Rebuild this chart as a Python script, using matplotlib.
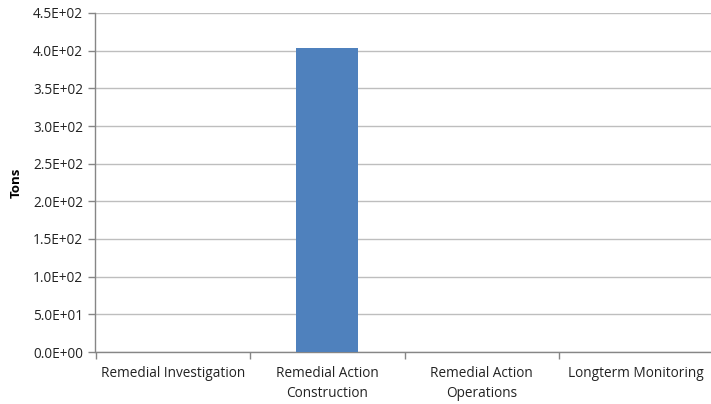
import matplotlib
matplotlib.use("Agg")
import matplotlib.pyplot as plt
from matplotlib.ticker import FuncFormatter

categories = ["Remedial Investigation", "Remedial Action\nConstruction",
              "Remedial Action\nOperations", "Longterm Monitoring"]
values = [0, 403.5, 0, 0]
yticks = [0, 50, 100, 150, 200, 250, 300, 350, 400, 450]

plt.rcParams['font.family'] = ['Open Sans', 'DejaVu Sans']

fig = plt.figure(figsize=(7.11, 4.04), dpi=100)
ax = fig.add_axes([95.5/711, 52/404, (713.5-95.5)/711, (352-13)/404])

x = list(range(len(categories)))
ax.bar(x, values, width=0.4, color="#4F81BD", zorder=3)

ax.set_xlim(-0.5, len(categories) - 0.5)
ax.set_ylim(0, 450)
ax.set_yticks(yticks)
ax.yaxis.set_major_formatter(FuncFormatter(lambda v, p: f"{v:.1E}"))
ax.grid(axis="y", color="#BEBEBE", linewidth=1, zorder=0)

ax.set_xticks(x)
ax.set_xticklabels(categories, fontsize=9.8, color="#222222", linespacing=1.45)
ax.set_xticks([i - 0.5 for i in range(len(categories) + 1)], minor=True)
ax.tick_params(axis="x", which="major", length=0, pad=10)
ax.tick_params(axis="x", which="minor", length=5, color="#868686", width=1)
ax.tick_params(axis="y", length=5, color="#868686", width=1, labelsize=9.8,
               labelcolor="#222222", pad=4)

for s in ["top", "right"]:
    ax.spines[s].set_visible(False)
for s in ["left", "bottom"]:
    ax.spines[s].set_color("#868686")
    ax.spines[s].set_linewidth(1)

ax.set_ylabel("Tons", fontsize=9.5, fontweight="bold", labelpad=7)

fig.savefig("out.png", dpi=100)
